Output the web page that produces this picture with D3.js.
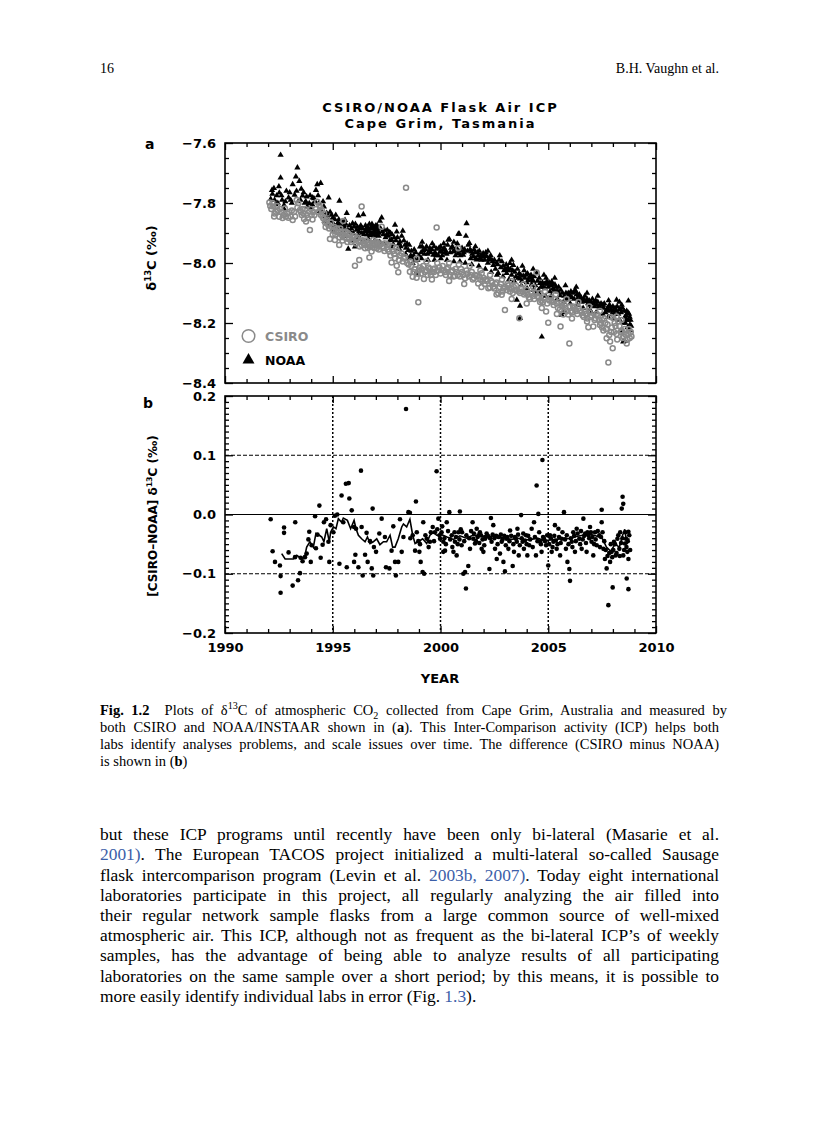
<!DOCTYPE html>
<html><head><meta charset="utf-8">
<script src="https://cdn.jsdelivr.net/npm/d3@7"></script>
<style>
body{margin:0;background:#fff;}
#page{position:relative;width:816px;height:1123px;overflow:hidden;background:#fff;}
svg{position:absolute;left:0;top:0;}
.ln{position:absolute;left:100px;font-family:"Liberation Serif","Times New Roman",serif;color:#000;white-space:nowrap;}
.lk{color:#3b5ea8;}
sup,sub{font-size:70%;line-height:0;}
</style></head>
<body><div id="page"></div>
<script>
// ---------------- DATA ----------------
const yearTicks = d3.range(1990, 2011, 1);
const yearLabels = [1990, 1995, 2000, 2005, 2010];
const aMajor = [-8.4, -8.2, -8.0, -7.8, -7.6];
const aMinor = [-8.35,-8.3,-8.25,-8.15,-8.1,-8.05,-7.95,-7.9,-7.85,-7.75,-7.7,-7.65];
const bMajor = [-0.2, -0.1, 0.0, 0.1, 0.2];
const bMinor = [-0.19,-0.18,-0.17,-0.16,-0.15,-0.14,-0.13,-0.12,-0.11,-0.09,-0.08,-0.07,-0.06,-0.05,-0.04,-0.03,-0.02,-0.01,
                0.01,0.02,0.03,0.04,0.05,0.06,0.07,0.08,0.09,0.11,0.12,0.13,0.14,0.15,0.16,0.17,0.18,0.19];
const bGridYears = [1995, 2000, 2005];
const bGridDashed = [-0.1, 0.1];

// NOAA flask d13C (permil) [decimal year, value]
const noaaData = [
[1992.12,-7.787],[1992.18,-7.757],[1992.27,-7.751],[1992.52,-7.766],[1992.58,-7.640],[1992.58,-7.716],[1992.74,-7.807],[1992.74,-7.820],
[1992.95,-7.782],[1993.14,-7.738],[1993.23,-7.773],[1993.29,-7.712],[1993.36,-7.682],[1993.45,-7.727],[1993.54,-7.753],[1993.60,-7.776],
[1993.79,-7.779],[1993.82,-7.812],[1993.91,-7.801],[1994.07,-7.782],[1994.13,-7.785],[1994.22,-7.757],[1994.28,-7.738],[1994.41,-7.827],
[1994.44,-7.734],[1994.59,-7.812],[1994.72,-7.834],[1994.72,-7.868],[1994.81,-7.782],[1994.84,-7.873],[1994.95,-7.840],[1995.03,-7.871],
[1995.18,-7.882],[1995.31,-7.793],[1995.34,-7.879],[1995.49,-7.893],[1995.57,-7.857],[1995.65,-7.834],[1995.72,-7.953],[1995.83,-7.898],
[1995.92,-7.868],[1995.99,-7.879],[1996.03,-7.946],[1996.19,-7.842],[1996.19,-7.909],[1996.26,-7.884],[1996.42,-7.838],[1996.50,-7.893],
[1996.65,-7.890],[1996.73,-7.907],[1996.80,-7.879],[1996.88,-7.898],[1996.96,-7.890],[1997.04,-7.907],[1997.11,-7.898],[1997.19,-7.860],
[1997.27,-7.849],[1997.53,-7.890],[1997.62,-7.898],[1997.73,-7.923],[1997.81,-7.938],[1997.89,-7.873],[1997.97,-7.896],[1998.04,-7.951],
[1998.12,-7.929],[1998.25,-7.893],[1998.35,-7.940],[1998.51,-7.957],[1998.58,-7.984],[1998.71,-8.001],[1998.82,-7.990],[1998.89,-8.029],
[1998.97,-8.038],[1999.05,-7.946],[1999.20,-7.957],[1999.48,-7.960],[1999.67,-7.973],[1999.82,-7.953],[1999.98,-7.962],
[2000.05,-7.962],[2000.21,-7.965],[2000.36,-7.923],[2000.41,-7.921],[2000.59,-7.962],[2000.82,-7.967],[2000.83,-7.903],[2000.87,-7.903],
[2001.05,-7.973],[2001.18,-7.910],[2001.21,-7.868],[2001.29,-7.940],[2001.34,-7.934],[2001.44,-7.962],[2001.52,-7.978],[2001.68,-7.989],
[2001.83,-7.984],[2001.98,-7.968],[2002.14,-7.978],[2002.30,-7.987],[2002.45,-8.007],[2002.68,-8.034],[2002.91,-8.010],[2003.07,-8.034],
[2003.22,-8.001],[2003.38,-8.007],[2003.54,-8.123],[2003.69,-8.143],[2003.69,-8.184],[2003.69,-8.052],[2003.84,-8.043],[2004.00,-8.065],
[2004.07,-8.058],[2004.23,-8.072],[2004.46,-8.034],[2004.46,-8.100],[2004.62,-8.067],[2004.70,-8.246],[2004.77,-8.080],[2004.93,-8.062],
[2005.08,-8.095],[2005.16,-8.062],[2005.31,-8.072],[2005.54,-8.108],[2005.62,-8.173],[2005.70,-8.162],[2005.78,-8.165],[2005.93,-8.100],
[2006.24,-8.090],[2006.32,-8.105],[2006.47,-8.125],[2006.78,-8.128],[2006.94,-8.140],[2007.01,-8.165],[2007.09,-8.135],[2007.25,-8.140],
[2007.40,-8.150],[2007.56,-8.150],[2007.71,-8.155],[2007.87,-8.145],[2008.02,-8.158],[2008.17,-8.123],[2008.41,-8.140],[2008.45,-8.226],
[2008.48,-8.262],[2008.56,-8.260],[2008.56,-8.180],[2008.64,-8.160],[2008.72,-8.126],[2008.72,-8.190],[2008.79,-8.205],
[1992.30,-7.790],[1992.40,-7.775],[1992.45,-7.800],[1992.65,-7.790],[1992.85,-7.760],[1993.05,-7.790],[1993.40,-7.795],[1993.70,-7.800],
[1994.00,-7.815],[1994.35,-7.800],[1994.50,-7.830],[1994.65,-7.845],[1994.90,-7.860],[1995.10,-7.855],[1995.25,-7.865],[1995.40,-7.880],
[1995.55,-7.885],[1995.60,-7.870],[1995.78,-7.875],[1996.10,-7.890],[1996.35,-7.900],[1996.55,-7.885],[1996.60,-7.905],[1996.70,-7.870],
[1996.85,-7.885],[1996.90,-7.910],[1997.00,-7.875],[1997.08,-7.885],[1997.15,-7.900],[1997.35,-7.905],[1997.45,-7.915],[1997.58,-7.910],
[1997.68,-7.900],[1998.00,-7.915],[1998.20,-7.910],[1998.30,-7.925],[1998.45,-7.935],[1998.65,-7.960],[1998.78,-7.955],[1999.10,-7.965],
[1999.30,-7.955],[1999.40,-7.970],[1999.55,-7.965],[1999.60,-7.955],[1999.75,-7.965],[1999.90,-7.975],[2000.12,-7.955],[2000.28,-7.970],
[2000.50,-7.950],[2000.70,-7.975],[2000.95,-7.960],[2001.12,-7.955],[2001.40,-7.985],[2001.60,-7.965],[2001.75,-7.975],[2001.90,-7.990],
[2002.05,-7.990],[2002.20,-8.000],[2002.38,-7.990],[2002.55,-8.020],[2002.60,-8.000],[2002.80,-8.015],[2003.00,-8.020],[2003.15,-8.025],
[2003.30,-8.040],[2003.45,-8.030],[2003.60,-8.050],[2003.78,-8.060],[2003.92,-8.050],[2004.15,-8.045],[2004.30,-8.060],[2004.40,-8.075],
[2004.55,-8.090],[2004.85,-8.085],[2005.00,-8.080],[2005.22,-8.085],[2005.40,-8.095],[2005.48,-8.080],[2005.85,-8.120],[2006.00,-8.110],
[2006.10,-8.115],[2006.40,-8.110],[2006.55,-8.130],[2006.65,-8.120],[2006.85,-8.135],[2007.15,-8.145],[2007.30,-8.130],[2007.50,-8.140],
[2007.65,-8.165],[2007.80,-8.160],[2007.95,-8.170],[2008.10,-8.150],[2008.25,-8.170],[2008.35,-8.155],[2008.50,-8.200],[2008.60,-8.175],
[2008.68,-8.215],[2008.75,-8.170],[2008.82,-8.190],
[1992.20,-7.770],[1992.35,-7.805],[1992.50,-7.745],[1992.62,-7.775],[1992.80,-7.795],[1993.00,-7.765],[1993.10,-7.800],[1993.32,-7.760],
[1993.50,-7.790],[1993.65,-7.765],[1993.75,-7.795],[1993.95,-7.775],[1994.05,-7.805],[1994.18,-7.795],[1994.32,-7.775],[1994.55,-7.795],
[1994.62,-7.860],[1994.78,-7.850],[1994.88,-7.830],[1995.00,-7.850],[1995.08,-7.875],[1995.14,-7.840],[1995.22,-7.870],[1995.28,-7.855],
[1995.45,-7.865],[1995.52,-7.875],[1995.70,-7.890],[1995.86,-7.885],[1995.95,-7.900],[1996.05,-7.870],[1996.15,-7.880],[1996.22,-7.895],
[1996.30,-7.875],[1996.38,-7.885],[1996.45,-7.905],[1996.52,-7.875],[1996.58,-7.895],[1996.62,-7.880],[1996.68,-7.895],[1996.75,-7.885],
[1996.78,-7.900],[1996.82,-7.870],[1996.86,-7.905],[1996.92,-7.880],[1996.98,-7.900],[1997.02,-7.890],[1997.06,-7.875],[1997.13,-7.910],
[1997.22,-7.885],[1997.30,-7.895],[1997.40,-7.890],[1997.50,-7.905],[1997.65,-7.925],[1997.75,-7.905],[1997.85,-7.915],[1997.93,-7.925],
[1998.08,-7.935],[1998.15,-7.945],[1998.40,-7.950],[1998.55,-7.940],[1998.62,-7.975],[1998.75,-7.975],[1998.85,-7.965],[1998.93,-7.990],
[1999.00,-7.975],[1999.15,-7.945],[1999.25,-7.970],[1999.35,-7.945],[1999.50,-7.950],[1999.70,-7.945],[1999.80,-7.975],[1999.93,-7.950],
[2000.00,-7.945],[2000.08,-7.975],[2000.17,-7.950],[2000.25,-7.960],[2000.33,-7.940],[2000.45,-7.965],[2000.55,-7.945],[2000.65,-7.960],
[2000.75,-7.950],[2000.78,-7.935],[2000.92,-7.975],[2001.00,-7.950],[2001.08,-7.965],[2001.25,-7.960],[2001.37,-7.955],[2001.47,-7.970],
[2001.56,-7.955],[2001.63,-7.985],[2001.72,-7.965],[2001.80,-7.960],[2001.87,-7.975],[2001.95,-7.980],[2002.02,-7.975],[2002.10,-7.965],
[2002.25,-7.985],[2002.33,-7.975],[2002.42,-7.995],[2002.50,-7.990],[2002.65,-8.005],[2002.72,-7.990],[2002.85,-7.995],[2002.95,-8.025],
[2003.05,-8.005],[2003.12,-8.015],[2003.25,-8.020],[2003.35,-8.025],[2003.50,-8.045],[2003.57,-8.020],[2003.65,-8.035],[2003.72,-8.040],
[2003.88,-8.025],[2003.96,-8.040],[2004.04,-8.035],[2004.12,-8.050],[2004.20,-8.040],[2004.26,-8.055],[2004.35,-8.045],[2004.50,-8.060],
[2004.58,-8.050],[2004.66,-8.080],[2004.73,-8.065],[2004.82,-8.070],[2004.90,-8.050],[2004.97,-8.070],[2005.04,-8.065],[2005.12,-8.075],
[2005.20,-8.070],[2005.27,-8.090],[2005.35,-8.080],[2005.45,-8.095],[2005.58,-8.090],[2005.66,-8.100],[2005.74,-8.110],[2005.82,-8.100],
[2005.90,-8.115],[2005.97,-8.105],[2006.05,-8.095],[2006.15,-8.100],[2006.20,-8.120],[2006.28,-8.095],[2006.36,-8.120],[2006.44,-8.105],
[2006.52,-8.115],[2006.60,-8.125],[2006.70,-8.110],[2006.80,-8.120],[2006.90,-8.125],[2006.98,-8.130],[2007.05,-8.120],[2007.12,-8.130],
[2007.20,-8.125],[2007.35,-8.145],[2007.45,-8.135],[2007.55,-8.140],[2007.60,-8.135],[2007.75,-8.150],[2007.84,-8.140],[2007.92,-8.155],
[2008.00,-8.145],[2008.06,-8.170],[2008.14,-8.160],[2008.20,-8.145],[2008.30,-8.155],[2008.38,-8.165],[2008.44,-8.150],[2008.53,-8.160],
[2008.62,-8.190],[2008.70,-8.165],[2008.78,-8.180],[2008.85,-8.210],
[1995.05,-7.895],[1995.35,-7.905],[1995.62,-7.910],[1995.90,-7.925],[1996.12,-7.920],[1996.40,-7.925],[1996.66,-7.920],[1996.94,-7.925],
[1997.18,-7.930],[1997.38,-7.935],[1997.70,-7.945],[1998.10,-7.955],[1998.38,-7.970],[1998.68,-7.985],[1999.12,-7.985],[1999.42,-7.990],
[1999.72,-7.990],[2000.02,-7.985],[2000.30,-7.990],[2000.62,-7.995],[2000.90,-7.995],[2001.15,-8.000],[2001.45,-8.005],[2001.78,-8.010],
[2002.08,-8.020],[2002.35,-8.030],[2002.62,-8.040],[2002.90,-8.045],[2003.18,-8.055],[2003.42,-8.060],[2003.75,-8.075],[2004.02,-8.085],
[2004.32,-8.090],[2004.60,-8.105],[2004.88,-8.110],[2005.14,-8.110],[2005.42,-8.120],[2005.70,-8.130],[2006.02,-8.135],[2006.34,-8.140],
[2006.62,-8.150],[2006.92,-8.155],[2007.22,-8.165],[2007.52,-8.170],[2007.78,-8.180],[2008.04,-8.185],[2008.32,-8.190],[2008.58,-8.200],
[2008.80,-8.225],
[1999.15,-7.930],[1999.62,-7.935],[2000.15,-7.935],[2000.62,-7.930],[2001.62,-7.945],[2002.20,-7.960],[2002.75,-7.975],[2003.30,-7.990],
[2003.80,-8.010],[2004.30,-8.020],[2004.80,-8.040],[2005.30,-8.050],[2005.80,-8.075],[2006.30,-8.080],[2006.80,-8.100],[2007.30,-8.110],
[2007.80,-8.125],[2008.30,-8.130]
];

// CSIRO flask d13C (permil) [decimal year, value]
const csiroData = [
[1992.06,-7.798],[1992.24,-7.812],[1992.37,-7.829],[1992.52,-7.846],[1992.71,-7.840],[1992.78,-7.818],[1992.94,-7.849],[1993.14,-7.857],
[1993.33,-7.790],[1993.40,-7.801],[1993.48,-7.823],[1993.56,-7.840],[1993.67,-7.853],[1993.76,-7.862],[1993.91,-7.829],[1993.94,-7.890],
[1994.02,-7.840],[1994.28,-7.796],[1994.38,-7.807],[1994.49,-7.823],[1994.56,-7.851],[1994.64,-7.864],[1994.79,-7.873],[1994.87,-7.920],
[1995.03,-7.890],[1995.10,-7.923],[1995.26,-7.898],[1995.30,-7.940],[1995.41,-7.907],[1995.49,-7.860],[1995.57,-7.898],[1995.65,-7.918],
[1995.80,-7.907],[1996.03,-8.009],[1996.19,-7.929],[1996.23,-7.990],[1996.34,-7.812],[1996.34,-7.940],[1996.50,-7.951],[1996.60,-7.934],
[1996.70,-7.982],[1996.73,-7.946],[1996.80,-7.962],[1996.88,-7.923],[1997.04,-7.929],[1997.04,-7.951],[1997.19,-7.940],[1997.27,-7.879],
[1997.50,-7.940],[1997.62,-7.962],[1997.73,-7.998],[1997.89,-7.984],[1997.94,-7.951],[1997.97,-8.009],[1998.04,-8.031],[1998.20,-7.968],
[1998.40,-7.749],[1998.58,-8.029],[1998.71,-8.046],[1998.89,-8.049],[1998.97,-8.131],[1999.13,-8.020],[1999.23,-8.053],[1999.36,-8.025],
[1999.59,-8.030],[1999.74,-8.018],[1999.82,-7.882],[2000.05,-8.023],[2000.21,-8.030],[2000.44,-8.040],[2000.67,-8.043],[2000.83,-7.951],
[2000.90,-8.045],[2001.14,-8.051],[2001.68,-8.043],[2001.75,-8.068],[2001.91,-8.034],[2002.22,-8.084],[2002.30,-8.082],[2002.45,-8.079],
[2002.68,-8.101],[2002.84,-8.106],[2002.99,-8.157],[2003.07,-8.090],[2003.22,-8.095],[2003.46,-8.090],[2003.66,-8.184],[2003.69,-8.100],
[2004.15,-8.120],[2004.46,-8.032],[2004.62,-8.130],[2004.90,-8.162],[2005.00,-8.199],[2005.16,-8.126],[2005.54,-8.155],[2005.57,-8.212],
[2005.70,-8.172],[2005.93,-8.172],[2005.98,-8.268],[2006.24,-8.155],[2006.47,-8.158],[2006.78,-8.168],[2006.86,-8.214],[2007.09,-8.212],
[2007.40,-8.207],[2007.56,-8.225],[2007.71,-8.251],[2007.79,-8.332],[2007.87,-8.262],[2007.99,-8.284],[2008.02,-8.183],[2008.17,-8.178],
[2008.17,-8.237],[2008.41,-8.226],[2008.64,-8.268],[2008.72,-8.237],
[1992.15,-7.820],[1992.30,-7.835],[1992.45,-7.825],[1992.60,-7.830],[1992.88,-7.835],[1993.05,-7.845],[1993.20,-7.830],[1993.60,-7.820],
[1993.85,-7.850],[1994.10,-7.830],[1994.45,-7.840],[1994.70,-7.860],[1994.95,-7.880],[1995.15,-7.895],[1995.35,-7.885],[1995.50,-7.905],
[1995.70,-7.900],[1995.90,-7.915],[1996.10,-7.920],[1996.28,-7.925],[1996.45,-7.935],[1996.65,-7.940],[1996.95,-7.935],[1997.10,-7.945],
[1997.35,-7.950],[1997.45,-7.935],[1997.55,-7.955],[1997.80,-7.960],[1998.10,-7.975],[1998.30,-7.985],[1998.45,-8.000],[1998.65,-8.010],
[1998.80,-8.020],[1999.00,-8.025],[1999.20,-8.010],[1999.45,-8.015],[1999.65,-8.020],[1999.90,-8.025],[2000.10,-8.010],[2000.30,-8.020],
[2000.55,-8.025],[2000.75,-8.030],[2001.00,-8.030],[2001.25,-8.035],[2001.40,-8.040],[2001.55,-8.050],[2001.85,-8.055],[2002.00,-8.050],
[2002.15,-8.060],[2002.40,-8.065],[2002.55,-8.070],[2002.75,-8.080],[2002.92,-8.085],[2003.15,-8.075],[2003.30,-8.085],[2003.55,-8.090],
[2003.80,-8.095],[2003.95,-8.100],[2004.05,-8.105],[2004.30,-8.110],[2004.40,-8.100],[2004.55,-8.115],[2004.75,-8.130],[2005.05,-8.125],
[2005.25,-8.140],[2005.40,-8.135],[2005.65,-8.145],[2005.80,-8.150],[2006.05,-8.160],[2006.15,-8.145],[2006.35,-8.170],[2006.60,-8.175],
[2006.70,-8.160],[2006.95,-8.180],[2007.20,-8.185],[2007.30,-8.175],[2007.50,-8.190],[2007.65,-8.200],[2007.92,-8.230],[2008.08,-8.200],
[2008.30,-8.210],[2008.50,-8.245],[2008.55,-8.220],[2008.78,-8.250],[2008.83,-8.230],
[1992.10,-7.810],[1992.20,-7.800],[1992.28,-7.845],[1992.42,-7.810],[1992.55,-7.820],[1992.67,-7.850],[1992.82,-7.845],[1992.98,-7.830],
[1993.10,-7.825],[1993.25,-7.845],[1993.36,-7.815],[1993.52,-7.830],[1993.64,-7.835],[1993.72,-7.820],[1993.80,-7.840],[1993.98,-7.820],
[1994.06,-7.855],[1994.15,-7.840],[1994.22,-7.820],[1994.33,-7.830],[1994.42,-7.815],[1994.52,-7.845],[1994.60,-7.835],[1994.67,-7.880],
[1994.74,-7.855],[1994.83,-7.885],[1994.92,-7.865],[1995.00,-7.905],[1995.07,-7.880],[1995.12,-7.905],[1995.20,-7.885],[1995.32,-7.915],
[1995.38,-7.895],[1995.45,-7.925],[1995.54,-7.915],[1995.60,-7.895],[1995.68,-7.930],[1995.75,-7.920],[1995.85,-7.930],[1995.95,-7.925],
[1996.00,-7.910],[1996.07,-7.935],[1996.14,-7.915],[1996.25,-7.945],[1996.31,-7.930],[1996.40,-7.925],[1996.48,-7.940],[1996.55,-7.925],
[1996.63,-7.950],[1996.68,-7.930],[1996.77,-7.945],[1996.84,-7.935],[1996.92,-7.950],[1996.99,-7.930],[1997.07,-7.940],[1997.14,-7.955],
[1997.22,-7.935],[1997.30,-7.945],[1997.40,-7.960],[1997.58,-7.940],[1997.68,-7.975],[1997.76,-7.945],[1997.85,-7.970],[1998.00,-7.960],
[1998.07,-7.990],[1998.14,-7.975],[1998.25,-7.995],[1998.35,-7.980],[1998.52,-8.005],[1998.60,-7.995],[1998.75,-8.030],[1998.85,-8.005],
[1998.93,-8.035],[1999.05,-8.015],[1999.10,-8.035],[1999.28,-8.030],[1999.40,-8.040],[1999.50,-8.020],[1999.55,-8.040],[1999.70,-8.030],
[1999.78,-8.040],[1999.95,-8.015],[2000.00,-8.035],[2000.15,-8.025],[2000.25,-8.040],[2000.35,-8.015],[2000.50,-8.030],[2000.60,-8.045],
[2000.70,-8.020],[2000.80,-8.040],[2000.95,-8.020],[2001.05,-8.040],[2001.20,-8.025],[2001.32,-8.045],[2001.45,-8.030],[2001.50,-8.055],
[2001.62,-8.040],[2001.80,-8.045],[2001.95,-8.060],[2002.05,-8.070],[2002.10,-8.055],[2002.35,-8.060],[2002.50,-8.085],[2002.60,-8.065],
[2002.80,-8.070],[2002.88,-8.095],[2003.00,-8.080],[2003.10,-8.070],[2003.20,-8.085],[2003.35,-8.100],[2003.40,-8.080],[2003.50,-8.075],
[2003.62,-8.095],[2003.75,-8.085],[2003.88,-8.105],[2004.00,-8.090],[2004.10,-8.115],[2004.22,-8.100],[2004.35,-8.120],[2004.50,-8.110],
[2004.60,-8.100],[2004.68,-8.125],[2004.80,-8.115],[2004.95,-8.135],[2005.10,-8.115],[2005.20,-8.130],[2005.30,-8.120],[2005.45,-8.150],
[2005.50,-8.130],[2005.62,-8.135],[2005.75,-8.140],[2005.88,-8.160],[2006.00,-8.145],[2006.10,-8.165],[2006.20,-8.150],[2006.30,-8.160],
[2006.42,-8.150],[2006.55,-8.165],[2006.65,-8.180],[2006.75,-8.170],[2006.82,-8.185],[2006.92,-8.165],[2007.00,-8.175],[2007.15,-8.190],
[2007.25,-8.170],[2007.35,-8.190],[2007.45,-8.200],[2007.60,-8.185],[2007.68,-8.220],[2007.75,-8.205],[2007.83,-8.240],[2007.95,-8.215],
[2008.05,-8.230],[2008.12,-8.210],[2008.25,-8.195],[2008.35,-8.230],[2008.45,-8.250],[2008.60,-8.240],[2008.68,-8.255],[2008.75,-8.220],
[2008.86,-8.245],
[1998.90,-7.985],[1999.35,-7.995],[1999.85,-8.000],[2000.40,-8.000],[2000.85,-8.005],[2001.35,-8.010],[2001.85,-8.025],[2002.30,-8.040],
[2002.85,-8.055],[2003.30,-8.060],[2003.85,-8.070],[2004.30,-8.080],[2004.85,-8.095],[2005.35,-8.105],[2005.85,-8.120],[2006.40,-8.130],
[2006.90,-8.145],[2007.40,-8.160],[2007.90,-8.180],[2008.40,-8.190],
[1999.60,-8.055],[2000.40,-8.060],[2001.10,-8.070],[2001.90,-8.080],[2002.60,-8.105],[2003.30,-8.120],[2004.00,-8.135],[2004.70,-8.150],
[2005.40,-8.170],[2006.10,-8.185],[2006.80,-8.195],[2007.50,-8.215],[2008.20,-8.255]
];

// CSIRO minus NOAA difference (permil) [decimal year, value]
const diffData = [
[1992.12,-0.008],[1992.21,-0.062],[1992.32,-0.080],[1992.55,-0.086],[1992.58,-0.104],[1992.58,-0.132],[1992.74,-0.022],[1992.74,-0.031],
[1992.95,-0.064],[1993.14,-0.120],[1993.26,-0.013],[1993.25,-0.072],[1993.39,-0.111],[1993.48,-0.099],[1993.51,-0.073],[1993.60,-0.079],
[1993.71,-0.072],[1993.79,-0.066],[1993.87,-0.042],[1993.91,-0.029],[1993.98,-0.080],[1994.02,-0.052],[1994.18,-0.003],[1994.22,-0.057],
[1994.29,-0.034],[1994.38,0.015],[1994.44,-0.073],[1994.53,-0.051],[1994.59,-0.013],[1994.69,-0.008],[1994.80,-0.046],[1994.84,-0.080],
[1994.90,-0.018],[1995.03,-0.030],[1995.10,-0.002],[1995.21,0.000],[1995.31,-0.083],[1995.41,0.032],[1995.49,-0.013],[1995.61,0.052],
[1995.74,0.053],[1995.77,0.027],[1995.65,-0.089],[1995.88,0.007],[1995.99,-0.021],[1996.08,-0.024],[1996.31,0.074],[1996.34,-0.021],
[1996.05,-0.068],[1995.99,-0.080],[1996.19,-0.089],[1996.39,-0.103],[1996.50,-0.068],[1996.57,-0.031],[1996.62,-0.080],[1996.73,-0.045],
[1996.81,-0.091],[1996.85,0.010],[1996.88,-0.103],[1996.91,-0.055],[1997.01,-0.063],[1997.16,-0.032],[1997.27,-0.007],[1997.42,-0.038],
[1997.47,-0.089],[1997.63,-0.091],[1997.73,-0.061],[1997.81,-0.020],[1997.89,-0.080],[1997.93,-0.103],[1998.04,-0.080],[1998.12,-0.008],
[1998.20,-0.063],[1998.28,-0.038],[1998.40,0.178],[1998.51,0.004],[1998.58,0.003],[1998.71,-0.035],[1998.82,-0.061],[1998.86,0.022],
[1998.97,-0.045],[1999.02,-0.063],[1999.08,-0.080],[1999.17,-0.097],[1999.24,-0.100],[1999.20,-0.013],[1999.36,-0.041],[1999.51,-0.046],
[1999.64,-0.021],[1999.74,-0.030],[1999.82,0.073],[1999.90,-0.007],[1999.98,-0.041],[2000.13,-0.063],
[2000.05,-0.030],[2000.13,-0.046],[2000.21,-0.061],[2000.29,-0.013],[2000.41,0.004],[2000.52,-0.035],[2000.60,-0.063],[2000.67,-0.046],
[2000.75,-0.069],[2000.83,-0.030],[2000.90,0.005],[2000.94,-0.025],[2000.98,-0.052],[2001.06,-0.100],[2001.14,-0.097],[2001.18,-0.125],
[2001.29,-0.087],[2001.37,-0.058],[2001.49,-0.013],[2001.52,-0.041],[2001.60,-0.049],[2001.68,-0.024],[2001.76,-0.035],[2001.83,-0.030],
[2001.91,-0.058],[2001.99,-0.063],[2002.07,-0.041],[2002.14,-0.032],[2002.27,-0.092],[2002.34,-0.006],[2002.37,-0.046],[2002.45,-0.018],
[2002.53,-0.058],[2002.61,-0.075],[2002.68,-0.038],[2002.76,-0.066],[2002.84,-0.046],[2002.92,-0.080],[2002.99,-0.096],[2003.07,-0.041],
[2003.15,-0.058],[2003.23,-0.027],[2003.35,-0.087],[2003.41,-0.063],[2003.50,-0.041],[2003.57,-0.024],[2003.63,-0.069],[2003.74,-0.001],
[2003.81,-0.046],[2003.87,-0.058],[2003.97,-0.035],[2004.03,-0.069],[2004.12,-0.052],[2004.23,-0.024],[2004.34,-0.013],[2004.43,-0.069],
[2004.46,0.049],[2004.54,0.001],[2004.62,-0.046],[2004.69,-0.063],[2004.73,0.092],[2004.80,-0.041],[2004.90,-0.052],[2005.00,-0.086],
[2005.08,-0.035],[2005.16,-0.063],[2005.24,-0.046],[2005.31,-0.018],[2005.39,-0.058],[2005.47,-0.024],[2005.55,-0.069],[2005.62,-0.041],
[2005.73,0.004],[2005.82,-0.058],[2005.89,-0.080],[2005.98,-0.092],[2006.01,-0.112],[2006.09,-0.046],[2006.16,-0.030],[2006.24,-0.063],
[2006.32,-0.024],[2006.44,-0.041],[2006.55,-0.058],[2006.63,-0.007],[2006.71,-0.032],[2006.78,-0.063],[2006.86,-0.035],[2006.94,-0.021],
[2007.01,-0.046],[2007.09,-0.069],[2007.17,-0.030],[2007.25,-0.052],[2007.37,-0.035],[2007.48,0.008],[2007.48,-0.013],[2007.56,-0.058],
[2007.63,-0.075],[2007.71,-0.091],[2007.79,-0.153],[2007.87,-0.080],[2007.94,-0.063],[2007.99,-0.123],[2008.05,-0.046],[2008.13,-0.069],
[2008.21,-0.041],[2008.30,-0.058],[2008.34,-0.030],[2008.41,0.010],[2008.45,0.030],[2008.48,0.018],[2008.48,-0.069],[2008.56,-0.049],
[2008.61,-0.041],[2008.64,-0.108],[2008.67,-0.063],[2008.72,-0.029],[2008.72,-0.075],[2008.72,-0.126],
[1998.60,-0.040],[1998.90,-0.030],[1999.05,-0.050],[1999.30,-0.035],[1999.45,-0.055],[1999.55,-0.030],[1999.70,-0.045],[1999.85,-0.025],
[1999.95,-0.035],[2000.08,-0.020],[2000.18,-0.040],[2000.25,-0.050],[2000.35,-0.028],[2000.45,-0.042],[2000.55,-0.055],[2000.65,-0.030],
[2000.72,-0.038],[2000.80,-0.050],[2000.88,-0.042],[2001.00,-0.030],[2001.10,-0.045],[2001.20,-0.035],[2001.33,-0.040],[2001.42,-0.028],
[2001.55,-0.032],[2001.65,-0.045],[2001.72,-0.038],[2001.80,-0.048],[2001.88,-0.035],[2001.95,-0.042],[2002.03,-0.052],[2002.10,-0.038],
[2002.20,-0.036],[2002.30,-0.040],[2002.42,-0.034],[2002.50,-0.040],[2002.58,-0.036],[2002.65,-0.050],[2002.72,-0.038],[2002.80,-0.034],
[2002.88,-0.042],[2002.96,-0.036],[2003.03,-0.052],[2003.10,-0.038],[2003.20,-0.045],[2003.28,-0.036],[2003.38,-0.050],[2003.45,-0.038],
[2003.54,-0.046],[2003.60,-0.034],[2003.68,-0.052],[2003.77,-0.040],[2003.84,-0.032],[2003.92,-0.044],[2004.00,-0.050],[2004.07,-0.036],
[2004.16,-0.042],[2004.28,-0.055],[2004.38,-0.038],[2004.50,-0.045],[2004.58,-0.030],[2004.66,-0.050],[2004.76,-0.038],[2004.85,-0.045],
[2004.95,-0.035],[2005.04,-0.050],[2005.12,-0.040],[2005.20,-0.055],[2005.28,-0.036],[2005.35,-0.044],[2005.43,-0.050],[2005.50,-0.038],
[2005.58,-0.048],[2005.66,-0.030],[2005.78,-0.042],[2005.86,-0.035],[2005.94,-0.050],[2006.05,-0.040],[2006.12,-0.055],[2006.20,-0.036],
[2006.28,-0.045],[2006.36,-0.032],[2006.48,-0.050],[2006.52,-0.028],[2006.60,-0.042],[2006.67,-0.036],[2006.75,-0.048],[2006.82,-0.030],
[2006.90,-0.040],[2006.98,-0.030],[2007.05,-0.038],[2007.13,-0.050],[2007.20,-0.042],[2007.30,-0.028],[2007.40,-0.055],[2007.45,-0.038],
[2007.52,-0.030],[2007.60,-0.045],[2007.67,-0.060],[2007.75,-0.070],[2007.83,-0.065],[2007.90,-0.050],[2007.97,-0.072],[2008.02,-0.060],
[2008.10,-0.050],[2008.17,-0.065],[2008.25,-0.035],[2008.32,-0.070],[2008.38,-0.048],[2008.44,-0.040],[2008.52,-0.060],[2008.58,-0.030],
[2008.63,-0.055],[2008.69,-0.045],[2008.76,-0.035],[2008.80,-0.060]
];

// running mean of the difference
const diffMean = [
[1992.63,-0.066],[1992.79,-0.075],[1993.17,-0.075],[1993.33,-0.069],[1993.56,-0.075],[1993.71,-0.069],[1993.79,-0.055],[1993.94,-0.046],
[1994.10,-0.055],[1994.22,-0.032],[1994.38,-0.035],[1994.49,-0.038],[1994.59,-0.046],[1994.72,-0.024],[1994.84,-0.046],[1994.90,-0.030],
[1995.03,-0.021],[1995.15,-0.024],[1995.26,-0.007],[1995.41,-0.013],[1995.49,-0.006],[1995.68,-0.010],[1995.83,-0.024],[1995.99,-0.010],
[1996.08,-0.024],[1996.19,-0.035],[1996.34,-0.041],[1996.50,-0.046],[1996.61,-0.038],[1996.73,-0.049],[1996.88,-0.046],[1997.04,-0.041],
[1997.19,-0.051],[1997.35,-0.046],[1997.50,-0.046],[1997.66,-0.035],[1997.78,-0.055],[1997.89,-0.055],[1998.04,-0.041],[1998.20,-0.021],
[1998.28,-0.016],[1998.43,-0.021],[1998.58,-0.008],[1998.71,-0.035],[1998.82,-0.049],[1998.97,-0.046],[1999.17,-0.041],[1999.36,-0.049],
[1999.51,-0.035],[1999.67,-0.030],[1999.82,-0.035],[2000.05,-0.034],[2000.30,-0.038],[2000.60,-0.042],[2000.90,-0.036],[2001.20,-0.040],
[2001.50,-0.035],[2001.80,-0.037],[2002.10,-0.036],[2002.40,-0.037],[2002.70,-0.038],[2003.00,-0.040],[2003.30,-0.042],[2003.60,-0.040],
[2003.90,-0.043],[2004.20,-0.042],[2004.50,-0.040],[2004.80,-0.044],[2005.10,-0.043],[2005.40,-0.042],[2005.70,-0.040],[2006.00,-0.041],
[2006.30,-0.037],[2006.60,-0.035],[2006.90,-0.033],[2007.20,-0.036],[2007.50,-0.040],[2007.70,-0.055],[2007.90,-0.062],[2008.10,-0.050],
[2008.30,-0.055],[2008.45,-0.035],[2008.55,-0.025],[2008.65,-0.050],[2008.75,-0.040]
];

// ---------------- DRAW ----------------
const page = d3.select("#page");
const svg = page.append("svg").attr("width", 816).attr("height", 1123);
const F = "'DejaVu Sans', Verdana, sans-serif";

const x = d3.scaleLinear().domain([1990, 2010]).range([225, 656]);
const ya = d3.scaleLinear().domain([-8.4, -7.6]).range([383, 143]);
const yb = d3.scaleLinear().domain([-0.2, 0.2]).range([633, 396]);

function strip(g){ g.select(".domain").remove(); g.selectAll("line").attr("stroke","#000").attr("stroke-width",1.3); }

function frame(y, top, bottom, major, minor, fmt) {
  svg.append("rect").attr("x", x(1990)).attr("y", top).attr("width", x(2010)-x(1990)).attr("height", bottom-top)
    .attr("fill","none").attr("stroke","#000").attr("stroke-width",1.6);
  const xMaj = yearLabels, xMin = yearTicks.filter(v => v % 5 !== 0);
  svg.append("g").attr("transform",`translate(0,${bottom})`).call(d3.axisTop(x).tickValues(xMin).tickSize(4).tickFormat("")).call(strip);
  svg.append("g").attr("transform",`translate(0,${bottom})`).call(d3.axisTop(x).tickValues(xMaj).tickSize(7).tickFormat("")).call(strip);
  svg.append("g").attr("transform",`translate(0,${top})`).call(d3.axisBottom(x).tickValues(xMin).tickSize(4).tickFormat("")).call(strip);
  svg.append("g").attr("transform",`translate(0,${top})`).call(d3.axisBottom(x).tickValues(xMaj).tickSize(7).tickFormat("")).call(strip);
  svg.append("g").attr("transform",`translate(${x(1990)},0)`).call(d3.axisRight(y).tickValues(minor).tickSize(4).tickFormat("")).call(strip);
  svg.append("g").attr("transform",`translate(${x(1990)},0)`).call(d3.axisRight(y).tickValues(major).tickSize(8).tickFormat("")).call(strip);
  svg.append("g").attr("transform",`translate(${x(2010)},0)`).call(d3.axisLeft(y).tickValues(minor).tickSize(4).tickFormat("")).call(strip);
  svg.append("g").attr("transform",`translate(${x(2010)},0)`).call(d3.axisLeft(y).tickValues(major).tickSize(8).tickFormat("")).call(strip);
  const gl = svg.append("g").attr("transform",`translate(${x(1990)},0)`)
    .call(d3.axisLeft(y).tickValues(major).tickSize(0).tickPadding(9).tickFormat(fmt));
  gl.select(".domain").remove();
  gl.selectAll("text").attr("font-family",F).attr("font-weight","bold").attr("font-size",13).attr("fill","#000");
}

// ---- Panel a ----
frame(ya, 143, 383, aMajor, aMinor, d3.format(".1f"));

const gA = svg.append("g");
const tri = d3.symbol().type(d3.symbolTriangle).size(17);
gA.selectAll("path.noaa").data(noaaData).join("path").attr("class","noaa")
  .attr("transform", d => `translate(${x(d[0])},${ya(d[1])})`).attr("d", tri).attr("fill","#000");
gA.selectAll("circle.csiro").data(csiroData).join("circle").attr("class","csiro")
  .attr("cx", d => x(d[0])).attr("cy", d => ya(d[1])).attr("r", 2.5)
  .attr("fill","none").attr("stroke","#8a8a8a").attr("stroke-width",1.5);

// legend
svg.append("circle").attr("cx",248.5).attr("cy",336).attr("r",6.3).attr("fill","none").attr("stroke","#8a8a8a").attr("stroke-width",1.5);
svg.append("text").attr("x",265).attr("y",341).text("CSIRO").attr("font-family",F).attr("font-weight","bold").attr("font-size",12.5).attr("fill","#8a8a8a");
svg.append("path").attr("transform","translate(248.5,360)").attr("d", d3.symbol().type(d3.symbolTriangle).size(62)).attr("fill","#000");
svg.append("text").attr("x",265).attr("y",365).text("NOAA").attr("font-family",F).attr("font-weight","bold").attr("font-size",12.5).attr("fill","#000");

// ---- Panel b ----
const gB = svg.append("g");
gB.selectAll("line.vg").data(bGridYears).join("line").attr("class","vg")
  .attr("x1", d => x(d)).attr("x2", d => x(d)).attr("y1", 396).attr("y2", 633)
  .attr("stroke","#000").attr("stroke-width",1.5).attr("stroke-dasharray","2,2");
gB.selectAll("line.hg").data(bGridDashed).join("line").attr("class","hg")
  .attr("x1", x(1990)).attr("x2", x(2010)).attr("y1", d => yb(d)).attr("y2", d => yb(d))
  .attr("stroke","#000").attr("stroke-width",1.2).attr("stroke-dasharray","4,2");
gB.append("line").attr("x1", x(1990)).attr("x2", x(2010)).attr("y1", yb(0)).attr("y2", yb(0))
  .attr("stroke","#000").attr("stroke-width",1);
frame(yb, 396, 633, bMajor, bMinor, d3.format(".1f"));

gB.selectAll("circle.diff").data(diffData).join("circle").attr("class","diff")
  .attr("cx", d => x(d[0])).attr("cy", d => yb(d[1])).attr("r", 2.3).attr("fill","#000");
gB.append("path").datum(diffMean)
  .attr("d", d3.line().x(d => x(d[0])).y(d => yb(d[1])))
  .attr("fill","none").attr("stroke","#000").attr("stroke-width",1.6);

// x labels
const gx = svg.append("g").attr("transform","translate(0,633)")
  .call(d3.axisBottom(x).tickValues(yearLabels).tickSize(0).tickPadding(10).tickFormat(d3.format("d")));
gx.select(".domain").remove();
gx.selectAll("text").attr("font-family",F).attr("font-weight","bold").attr("font-size",13).attr("fill","#000");

// titles & labels
const T = (xx, yy, s, size, anchor) => svg.append("text").attr("x",xx).attr("y",yy).text(s)
  .attr("font-family",F).attr("font-weight","bold").attr("font-size",size).attr("text-anchor",anchor||"middle").attr("fill","#000");
T(440.5, 111.5, "CSIRO/NOAA Flask Air ICP", 13).attr("letter-spacing","2px");
T(440.5, 128, "Cape Grim, Tasmania", 13).attr("letter-spacing","2px");
T(440, 683, "YEAR", 13);
T(145, 149, "a", 14, "start");
T(143, 408, "b", 14, "start");

function ylab(cx, cy, pre, size) {
  const t = svg.append("text").attr("transform",`translate(${cx},${cy}) rotate(-90)`)
    .attr("text-anchor","middle").attr("font-family",F).attr("font-weight","bold").attr("font-size",size).attr("fill","#000");
  t.append("tspan").text(pre + "δ");
  t.append("tspan").text("13").attr("font-size",size*0.65).attr("dy",-5);
  t.append("tspan").text("C (‰)").attr("dy",5);
}
ylab(156, 258, "", 13);
ylab(157, 516, "[CSIRO\u2013NOAA] ", 12);

// ---------------- PAGE TEXT ----------------
function line(fs, lh, baseline, html, justify) {
  const d = page.append("div").attr("class","ln").style("font-size", fs + "px").style("line-height", lh + "px").html(html);
  const node = d.node();
  const asc = 0.891 * fs + (lh - 1.107 * fs) / 2;
  d.style("top", (baseline - asc) + "px");
  if (justify) {
    const w = node.getBoundingClientRect().width;
    const n = (node.textContent.match(/ /g) || []).length;
    if (n > 0) d.style("word-spacing", ((619 - w) / n) + "px");
  }
  return d;
}
line(14, 17, 73, "16", false);
const hdr = line(14, 17, 73, "B.H. Vaughn et al.", false);
hdr.style("left", (719 - hdr.node().getBoundingClientRect().width) + "px");

const capLines = [
  "<b>Fig. 1.2</b>&nbsp;&nbsp;Plots of δ<sup>13</sup>C of atmospheric CO<sub>2</sub> collected from Cape Grim, Australia and measured by",
  "both CSIRO and NOAA/INSTAAR shown in (<b>a</b>). This Inter-Comparison activity (ICP) helps both",
  "labs identify analyses problems, and scale issues over time. The difference (CSIRO minus NOAA)",
  "is shown in (<b>b</b>)"
];
capLines.forEach((s, i) => line(14.5, 17, 715 + i * 17.2, s, i < capLines.length - 1));

const bodyLines = [
  "but these ICP programs until recently have been only bi-lateral (Masarie et al.",
  "<span class='lk'>2001)</span>. The European TACOS project initialized a multi-lateral so-called Sausage",
  "flask intercomparison program (Levin et al. <span class='lk'>2003b, 2007)</span>. Today eight international",
  "laboratories participate in this project, all regularly analyzing the air filled into",
  "their regular network sample flasks from a large common source of well-mixed",
  "atmospheric air. This ICP, although not as frequent as the bi-lateral ICP’s of weekly",
  "samples, has the advantage of being able to analyze results of all participating",
  "laboratories on the same sample over a short period; by this means, it is possible to",
  "more easily identify individual labs in error (Fig. <span class='lk'>1.3</span>)."
];
bodyLines.forEach((s, i) => line(17.4, 20, 840 + i * 20.2, s, i < bodyLines.length - 1));
</script>
</body></html>
